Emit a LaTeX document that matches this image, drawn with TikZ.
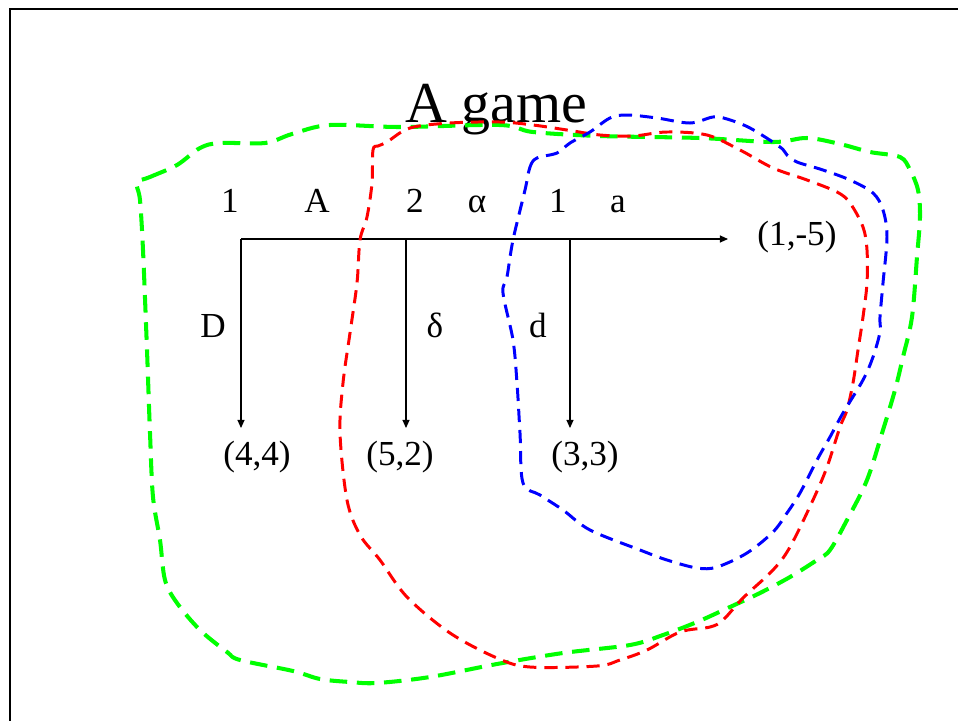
\documentclass[tikz,border=0pt]{standalone}
\usepackage{fontspec}
\setmainfont{Liberation Serif}
\usetikzlibrary{arrows.meta}
\definecolor{setgreen}{RGB}{0,255,0}
\definecolor{setred}{RGB}{255,0,0}
\definecolor{setblue}{RGB}{0,0,255}
\tikzset{
  frame/.style={black,line width=1.2pt},
  move/.style={-{Triangle[length=4.6pt,width=4pt]},line width=0.6pt},
  lab/.style={font=\fontsize{20}{24}\selectfont,anchor=base,inner sep=0pt},
  payoff/.style={lab},
  infoset/.style={line width=1.7pt,dash pattern=on 7.5pt off 4.5pt,smooth cycle,tension=0.55},
}

\begin{document}
\begin{tikzpicture}[x=0.02cm,y=-0.02cm]
  \useasboundingbox (0,0) rectangle (958,721);
  \draw[frame] (10,721) -- (10,9) -- (958,9);

  \node[font=\fontsize{33}{40}\selectfont,anchor=base,inner sep=0pt] (title) at (496,122) {A game};

  % decision nodes and ends of the moves
  \coordinate (n1) at (241,239);
  \coordinate (n2) at (406,239);
  \coordinate (n3) at (570,239);
  \coordinate (e0) at (728,239);
  \coordinate (e1) at (241,428);
  \coordinate (e2) at (406,428);
  \coordinate (e3) at (570,428);

  \node[lab] (p1) at (230,212) {1};
  \node[lab] (mA) at (317,212) {A};
  \node[lab] (p2) at (415,212) {2};
  \node[lab] (ma) at (477,212) {α};
  \node[lab] (p3) at (558,212) {1};
  \node[lab] (mb) at (618,212) {a};

  \node[lab] (mD) at (213,337) {D};
  \node[lab] (md) at (435,337) {δ};
  \node[lab] (me) at (538,337) {d};

  \node[payoff] (o44) at (257,465) {(4,4)};
  \node[payoff] (o52) at (400,465) {(5,2)};
  \node[payoff] (o33) at (585,465) {(3,3)};
  \node[payoff] (o15) at (797,245) {(1,-5)};

  \draw[move] (n1) -- (e0);
  \draw[move] (n1) -- (e1);
  \draw[move] (n2) -- (e2);
  \draw[move] (n3) -- (e3);

  % information sets
  \draw[infoset,setgreen,line width=2.3pt,dash pattern=on 10pt off 5.5pt] plot coordinates {
    (137,183) (150,177) (177,165) (200,148) (220,143) (265,143) (292,134) (330,125)
    (400,127) (500,125) (533,132) (600,136) (700,138) (773,142) (807,138) (840,144)
    (870,152) (900,157) (910,170) (918,190) (920,217) (917,257) (912,317) (903,357)
    (895,390) (883,430) (867,480) (847,520) (830,550) (817,560) (790,577) (760,593)
    (730,607) (697,622) (663,635) (630,645) (563,653) (497,664) (430,677) (377,683)
    (350,682) (320,679) (293,671) (240,660) (227,652) (200,630) (177,603) (165,580)
    (160,540) (153,497) (150,433) (147,350) (143,250) (140,200)};
  \draw[infoset,setred] plot coordinates {
    (372,183) (373,150) (378,146) (387,142) (410,128) (450,123) (500,122) (533,125)
    (567,130) (600,135) (633,136) (667,132) (707,135) (740,150) (773,168) (807,180)
    (837,192) (850,203) (863,227) (867,250) (867,283) (863,317) (858,350) (853,383)
    (847,410) (840,427) (827,467) (813,500) (790,547) (773,570) (743,598) (723,620)
    (710,627) (680,632) (647,650) (620,660) (597,666) (530,667) (497,658) (450,633)
    (407,597) (380,560) (360,535) (347,500) (340,433) (343,383) (350,333) (357,283)
    (360,240) (367,217)};
  \draw[infoset,setblue] plot coordinates {
    (525,190) (530,167) (537,158) (557,153) (570,143) (590,132) (610,118) (627,115)
    (657,118) (690,123) (713,117) (727,119) (750,128) (780,147) (787,155) (797,162)
    (823,170) (850,180) (873,193) (883,210) (887,237) (883,283) (880,317) (880,332)
    (873,357) (863,380) (843,413) (830,437) (817,460) (800,493) (787,513) (773,532)
    (747,553) (717,567) (697,568) (667,560) (640,550) (590,530) (563,510) (540,495)
    (523,483) (520,433) (517,383) (513,340) (503,293) (507,277) (513,240)};
\end{tikzpicture}
\end{document}
